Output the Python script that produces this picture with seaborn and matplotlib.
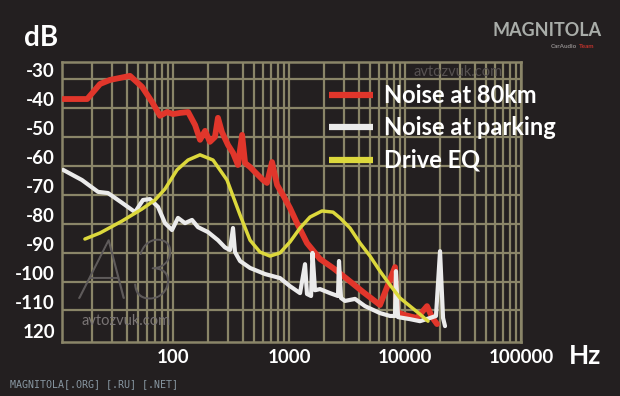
import numpy as np
import pandas as pd
import matplotlib
matplotlib.use("Agg")
import matplotlib.pyplot as plt
import matplotlib.patheffects as pe
from matplotlib.lines import Line2D
import seaborn as sns

# ---------------- data ----------------
red_freq = [11.3, 18.2, 23.5, 28.6, 34.9, 42.6, 54.1, 65.9, 77.2, 88.8, 100, 115, 135, 155, 171,
            189, 208, 230, 244, 264, 298, 329, 363, 394, 418, 461, 541, 597, 646, 714, 789, 888,
            1020, 1172, 1429, 1850, 2395, 3162, 4345, 6085, 8200, 8531, 10000, 12690, 15480, 17100, 18880]
red_db = [-39.9, -39.9, -34.7, -33.3, -32.6, -31.9, -35.7, -40.9, -45.7, -44.4, -45.1, -44.7, -44.4, -48.9, -54.0,
          -50.9, -54.7, -53.0, -46.4, -51.3, -55.8, -58.5, -62.7, -52.3, -62.0, -63.4, -66.2, -67.9, -68.9, -61.7, -69.6, -73.1,
          -77.6, -82.8, -89.7, -95.2, -98.3, -102.1, -106.6, -111.1, -98.0, -113.6, -114.6, -115.6, -111.5, -115.3, -117.7]

white_freq = [11.3, 16.4, 22.6, 27.5, 36.4, 47.1, 55.1, 63.3, 74.3, 85.3, 98.0, 110.4, 126.9, 145.8, 164.3,
              200.3, 244.2, 280.5, 309.8, 328.9, 342.2, 378.4, 461.3, 621, 836, 1020, 1245, 1374, 1429, 1549,
              1594, 1675, 1850, 2255, 2645, 2698, 2807, 3040, 3707, 4520, 6085, 7430, 8200, 8356, 8710,
              11040, 13460, 16430, 18500, 20040, 21280, 22130]
white_db = [-64.4, -67.9, -72.0, -72.4, -75.8, -79.0, -74.8, -74.5, -77.2, -82.8, -85.2, -81.0, -82.8, -81.7, -84.2,
            -85.9, -88.7, -91.2, -92.1, -84.5, -92.8, -95.9, -98.3, -100.4, -101.8, -104.6, -107.0, -97.0, -107.3, -108.0,
            -93.1, -106.0, -105.6, -107.0, -108.0, -95.9, -108.7, -109.7, -109.0, -111.5, -113.9, -114.9, -114.9, -99.4, -115.3,
            -116.0, -116.7, -115.6, -114.9, -92.5, -115.6, -118.4]

eq_freq = [17.4, 23.5, 36.3, 54.1, 70.0, 85.3, 108.3, 134.7, 170.9, 221.3, 292.1, 378.4, 461.3, 562, 685.7,
           836, 1020, 1245, 1517, 1924, 2395, 2752, 3356, 4093, 4992, 6085, 7430, 9056, 11040, 13460, 15780]
eq_db = [-88.3, -86.2, -82.1, -77.9, -74.8, -71.0, -64.4, -61.0, -59.2, -61.0, -67.9, -80.0, -88.7, -92.8, -94.2,
         -93.1, -89.3, -84.5, -80.7, -78.6, -79.0, -81.0, -84.5, -89.7, -94.2, -99.4, -104.2, -108.7, -111.5, -114.3, -116.7]

series_names = ["Noise at 80km", "Noise at parking", "Drive EQ"]
series_colors = ["#e1362b", "#ebebeb", "#dcd83c"]

x_ticks = [100, 1000, 10000, 100000]
x_tick_labels = ["100", "1000", "10000", "100000"]
y_ticks = [-30, -40, -50, -60, -70, -80, -90, -100, -110, -120]
y_tick_labels = ["-30", "-40", "-50", "-60", "-70", "-80", "-90", "-100", "-110", "120"]
y_grid = [-33, -43, -53, -63, -73, -83, -93, -103, -113]

BG = "#231f20"
GRID = "#8a8568"

sns.set_theme(style="dark")
plt.rcParams["font.family"] = ["Lato", "DejaVu Sans"]

fig = plt.figure(figsize=(6.2, 3.96), dpi=100, facecolor=BG)
ax = fig.add_axes([62 / 620, 1 - 342 / 396, (521 - 62) / 620, (342 - 62) / 396])
ax.set_facecolor(BG)

df_red = pd.DataFrame({"freq": red_freq, "db": red_db})
df_white = pd.DataFrame({"freq": white_freq, "db": white_db})
df_eq = pd.DataFrame({"freq": eq_freq, "db": eq_db})

sns.lineplot(data=df_red, x="freq", y="db", color=series_colors[0], lw=4.2, estimator=None, ax=ax, zorder=3)
sns.lineplot(data=df_white, x="freq", y="db", color=series_colors[1], lw=3.0, estimator=None, ax=ax, zorder=4)
sns.lineplot(data=df_eq, x="freq", y="db", color=series_colors[2], lw=2.5, estimator=None, ax=ax, zorder=5)

ax.set_xscale("log")
ax.set_xlim(11.04, 100000)
ax.set_ylim(-123.9, -27.1)

minor_x = [k * 10 ** d for d in range(1, 5) for k in range(2, 10)]
ax.set_xticks(x_ticks)
ax.set_xticklabels(x_tick_labels)
ax.set_xticks(minor_x, minor=True)
ax.set_xticklabels([], minor=True)
ax.set_yticks(y_ticks)
ax.set_yticklabels(y_tick_labels)
ax.set_yticks(y_grid, minor=True)
ax.set_yticklabels([], minor=True)

ax.grid(False)
ax.grid(True, which="both", axis="x", color=GRID, lw=1.6)
ax.grid(True, which="minor", axis="y", color=GRID, lw=1.6)
ax.set_axisbelow(True)

ax.tick_params(which="both", length=0)
ax.tick_params(axis="x", which="major", pad=5, labelsize=13.5, labelcolor="white")
ax.tick_params(axis="y", which="major", pad=5, labelsize=13.5, labelcolor="white")
for lab in ax.get_xticklabels() + ax.get_yticklabels():
    lab.set_fontweight("bold")

for s in ax.spines.values():
    s.set_visible(True)
    s.set_color(GRID)
    s.set_linewidth(1.8)

ax.set_xlabel("")
ax.set_ylabel("")

# legend
handles = [Line2D([], [], color=c, lw=4.5, solid_capstyle="butt") for c in series_colors]
leg = fig.legend(handles, series_names, loc="upper left", bbox_to_anchor=(329 / 620, 1 - 84 / 396),
                 bbox_transform=fig.transFigure, frameon=False, borderpad=0, borderaxespad=0,
                 handlelength=1.85, handletextpad=0.5, labelspacing=0.40,
                 prop={"family": ["Lato", "DejaVu Sans"], "weight": "bold", "size": 17})
for t in leg.get_texts():
    t.set_color("white")

# axis titles
fig.text(24 / 620, 1 - 38 / 396, "dB", color="white", fontsize=20, fontweight="bold", va="center", ha="left")
fig.text(569 / 620, 1 - 356 / 396, "Hz", color="white", fontsize=19, fontweight="bold", va="center", ha="left")

# watermarks
fig.text(458 / 620, 1 - 72 / 396, "avtozvuk.com", color="#575252", fontsize=10.5,
         ha="center", va="center")
fig.text(126 / 620, 1 - 321 / 396, "avtozvuk.com", color="#7a7575", fontsize=10.5,
         ha="center", va="center")
fig.text(80 / 620, 1 - 276 / 396, "A3", color=(0, 0, 0, 0), fontsize=60, style="italic", fontweight="light",
         ha="left", va="center", zorder=1,
         path_effects=[pe.withStroke(linewidth=0.8, foreground="#5e5a5a")])

fig.text(602 / 620, 1 - 30 / 396, "MAGNITOLA", color="#a9ada9", fontsize=13, fontweight="bold",
         ha="right", va="center")
fig.text(577 / 620, 1 - 46 / 396, "CarAudio", color="#8f8b8b", fontsize=4.5, fontweight="bold",
         ha="right", va="center")
fig.text(579 / 620, 1 - 46 / 396, "Team", color="#c0322c", fontsize=4.5, fontweight="bold",
         ha="left", va="center")

fig.text(10 / 620, 1 - 384 / 396, "MAGNITOLA[.ORG] [.RU] [.NET]", color="#8897a2", fontsize=7.2,
         family="DejaVu Sans Mono", ha="left", va="center")

fig.savefig("out.png", dpi=100, facecolor=BG)
